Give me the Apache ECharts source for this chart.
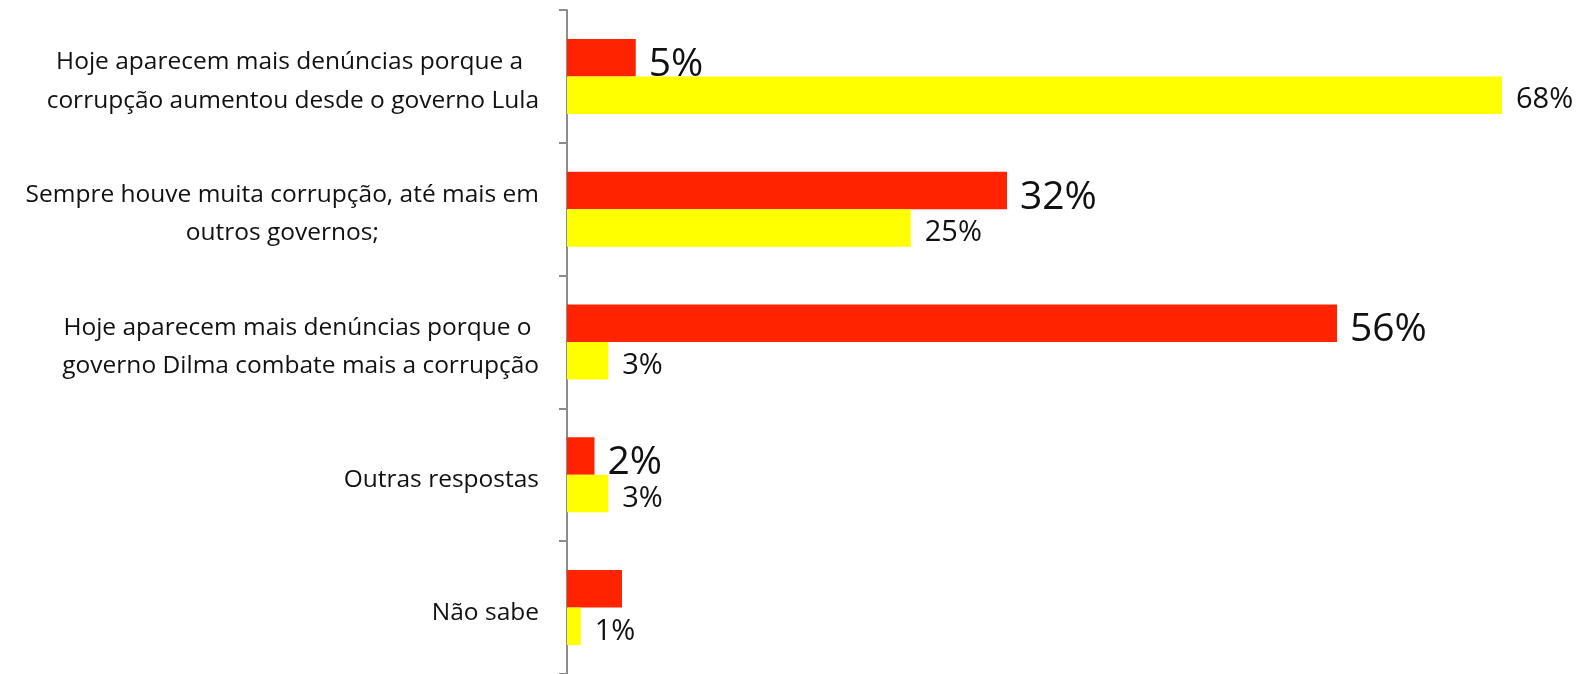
<!DOCTYPE html>
<html><head><meta charset="utf-8">
<script src="https://cdn.jsdelivr.net/npm/echarts@6/dist/echarts.min.js"></script>
<style>html,body{margin:0;padding:0;background:#fff}#c{width:1591px;height:674px}</style>
</head><body><div id="c"></div>
<script>
var categories = [
  "Hoje aparecem mais denúncias porque a \ncorrupção aumentou desde o governo Lula",
  "Sempre houve muita corrupção, até mais em\noutros governos;",
  "Hoje aparecem mais denúncias porque o \ngoverno Dilma combate mais a corrupção",
  "Outras respostas",
  "Não sabe"
];
var redValues = [5, 32, 56, 2, 4];
var redLabels = ["5%", "32%", "56%", "2%", ""];
var yellowValues = [68, 25, 3, 3, 1];
var yellowLabels = ["68%", "25%", "3%", "3%", "1%"];

var font = "Open Sans";
var chart = echarts.init(document.getElementById('c'));
chart.setOption({
  animation: false,
  grid: {left: 567, right: 61.5, top: 10, bottom: 0, containLabel: false},
  xAxis: {type: 'value', min: 0, max: 70, show: false, splitLine: {show: false}},
  yAxis: {
    type: 'category', inverse: true, data: categories,
    axisLine: {lineStyle: {color: '#8c8c8c', width: 2}},
    axisTick: {show: true, length: 8, lineStyle: {color: '#8c8c8c', width: 2}},
    axisLabel: {
      margin: 28, fontFamily: font, fontSize: 24.5, color: '#111', lineHeight: 38.5,
      padding: [10, 0, 0, 0],
      formatter: function (v) {
        return v.split('\n').map(function (s) { return '{c|' + s + '}'; }).join('\n');
      },
      rich: {c: {align: 'center', fontFamily: font, fontSize: 24.5, color: '#111', lineHeight: 38.5}}
    }
  },
  series: [
    {
      name: 'red', type: 'bar', data: redValues, barWidth: 37.5, barGap: '0%',
      itemStyle: {color: '#FF2300'},
      label: {show: true, position: 'right', distance: 13, fontFamily: font, fontSize: 39, color: '#111',
        formatter: function (p) { return redLabels[p.dataIndex]; }, offset: [0, 7]}
    },
    {
      name: 'yellow', type: 'bar', data: yellowValues, barWidth: 37.5,
      itemStyle: {color: '#FFFF00'},
      label: {show: true, position: 'right', distance: 14, fontFamily: font, fontSize: 29, color: '#111',
        formatter: function (p) { return yellowLabels[p.dataIndex]; }, offset: [0, 5]}
    }
  ]
});
</script></body></html>
